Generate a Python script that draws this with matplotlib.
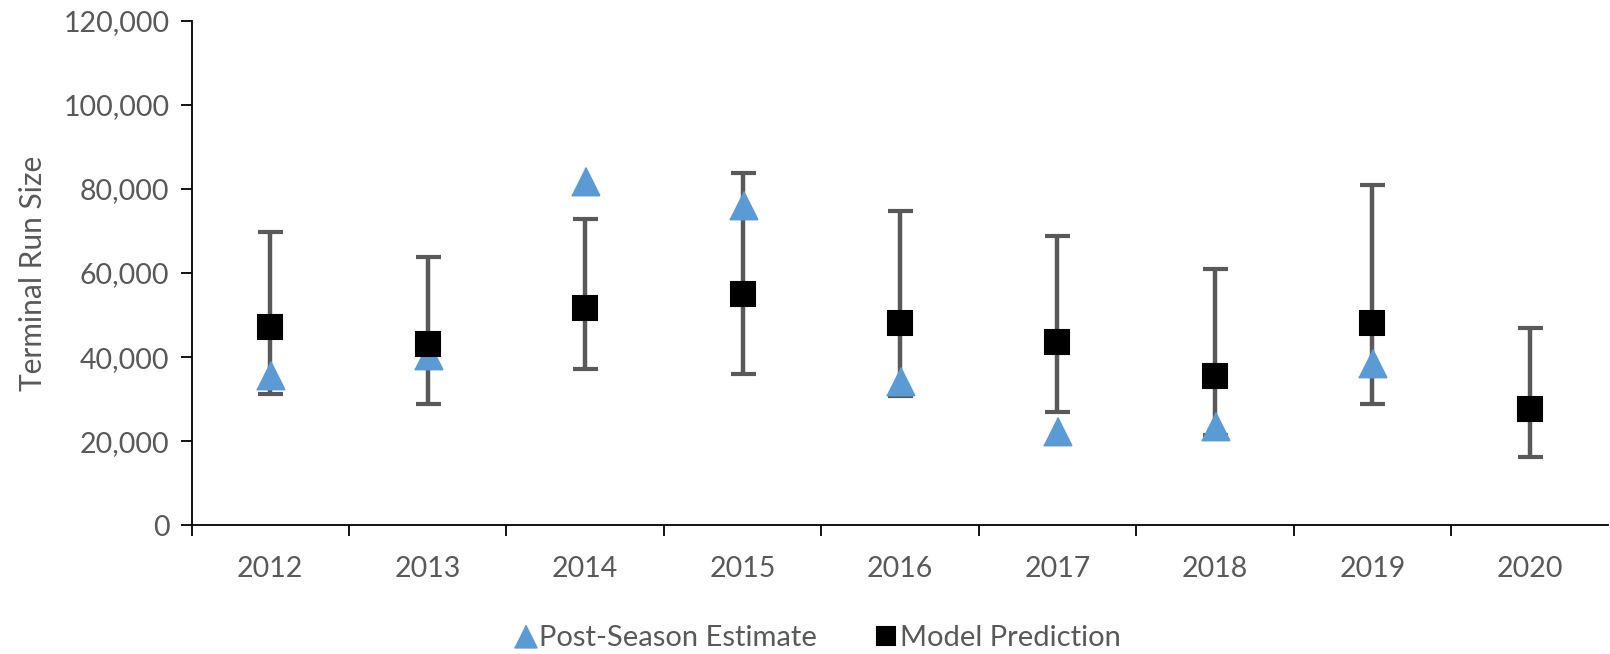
import numpy as np
import matplotlib
matplotlib.use('Agg')
import matplotlib.pyplot as plt
from matplotlib.ticker import FuncFormatter

years = ['2012', '2013', '2014', '2015', '2016', '2017', '2018', '2019', '2020']
post_season = [35700, 40500, 81900, 76100, 34300, 22400, 23600, 38600, None]
model_pred = [47200, 43000, 51700, 55100, 48100, 43500, 35600, 48100, 27600]
pred_upper = [69700, 63700, 72900, 83700, 74800, 68700, 60900, 80900, 46900]
pred_lower = [31200, 28800, 37100, 35900, 30700, 27000, 21500, 28800, 16300]

grey = '#595959'
blue = '#5B9BD5'

plt.rcParams['font.family'] = ['Lato', 'DejaVu Sans']

fig = plt.figure(figsize=(16.1, 6.54), dpi=100)
ax = fig.add_axes([0.119, 0.197, 0.880, 0.771])

x = np.arange(len(years)) + 0.5
model = np.array(model_pred, dtype=float)
err = [model - np.array(pred_lower), np.array(pred_upper) - model]

# error bars first, then triangles, squares on top
ax.errorbar(x, model, yerr=err, fmt='none', ecolor=grey, elinewidth=3.2,
            capsize=9, capthick=3, zorder=2)

tri = [(-1, -1), (1, -1), (0, 1)]
ps = np.array([np.nan if v is None else v for v in post_season])
ax.plot(x, ps, linestyle='none', marker=tri, markersize=20, color=blue,
        markeredgecolor=blue, markeredgewidth=1.5, zorder=3,
        label='Post-Season Estimate')
ax.plot(x, model, linestyle='none', marker='s', markersize=17, color='black',
        markeredgewidth=1.5, zorder=4, label='Model Prediction')

ax.set_xlim(0, len(years))
ax.set_ylim(0, 120000)
ax.set_yticks(np.arange(0, 120001, 20000))
ax.yaxis.set_major_formatter(FuncFormatter(lambda v, p: f'{int(v):,}'))

ax.set_xticks(np.arange(0, len(years)))
ax.set_xticklabels([])
ax.set_xticks(x, minor=True)
ax.set_xticklabels(years, minor=True)
ax.tick_params(axis='x', which='minor', length=0, pad=22, labelsize=20.5,
               labelcolor=grey)
ax.tick_params(axis='x', which='major', length=8, width=1.3, direction='out')
ax.tick_params(axis='y', length=8, width=1.3, direction='out', pad=8,
               labelsize=20.5, labelcolor=grey)

for s in ['top', 'right']:
    ax.spines[s].set_visible(False)
ax.spines['left'].set_linewidth(1.3)
ax.spines['bottom'].set_linewidth(1.3)

ax.set_ylabel('Terminal Run Size', fontsize=21.5, color=grey, labelpad=12)

fig.legend(loc='center', bbox_to_anchor=(0.508, 0.024), ncol=2, frameon=False,
           fontsize=21, labelcolor=grey, handlelength=0.7, handletextpad=0.15,
           columnspacing=2.0, markerscale=0.8)

fig.savefig('out.png', dpi=100)
